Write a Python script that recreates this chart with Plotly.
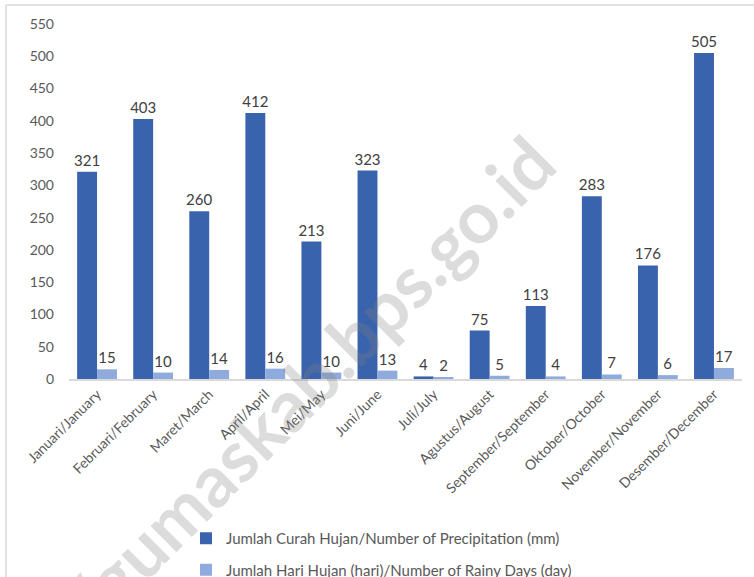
import plotly.graph_objects as go

W, H = 754, 577
L, R, T, B = 69, 12, 24, 198

months = [
    "Januari/January", "Februari/February", "Maret/March", "April/April",
    "Mei/May", "Juni/June", "Juli/July", "Agustus/August",
    "September/September", "Oktober/October", "November/November", "Desember/December",
]
precipitation_mm = [321, 403, 260, 412, 213, 323, 4, 75, 113, 283, 176, 505]
rainy_days = [15, 10, 14, 16, 10, 13, 2, 5, 4, 7, 6, 17]
y_ticks = list(range(0, 551, 50))

_DARK = "#3A63AD"
_LIGHT = "#8FAADC"
_TEXT = "#404040"
_FONT = "Lato, 'Open Sans', sans-serif"

fig = go.Figure()

fig.add_trace(
    go.Bar(
        x=months,
        y=precipitation_mm,
        name="Jumlah Curah Hujan/Number of Precipitation (mm)",
        legendgroup="a",
        marker=dict(color=_DARK, line=dict(width=0)),
        text=precipitation_mm,
        textposition="outside",
        constraintext="none",
        textfont=dict(color=_TEXT, size=15),
        cliponaxis=False,
    )
)
fig.add_trace(
    go.Bar(
        x=months,
        y=rainy_days,
        name="Jumlah Hari Hujan (hari)/Number of Rainy Days (day)",
        legendgroup="b",
        marker=dict(color=_LIGHT, line=dict(width=0)),
        text=rainy_days,
        textposition="outside",
        constraintext="none",
        textfont=dict(color=_TEXT, size=15),
        cliponaxis=False,
    )
)


def px_x(p):
    return (p - L) / (W - L - R)


def px_y(p):
    return (H - B - p) / (H - T - B)


# frame lines on the left and top edges
fig.add_shape(type="line", xref="paper", yref="paper",
              x0=px_x(6), x1=px_x(W), y0=px_y(5), y1=px_y(5),
              line=dict(color="#D9D9D9", width=1.5))
fig.add_shape(type="line", xref="paper", yref="paper",
              x0=px_x(6), x1=px_x(6), y0=px_y(5), y1=px_y(H),
              line=dict(color="#D9D9D9", width=1.5))

# watermark
fig.add_annotation(
    text="<b>https://gumaskab.bps.go.id</b>",
    xref="paper", yref="paper",
    x=px_x(238), y=px_y(451),
    xanchor="center", yanchor="middle",
    showarrow=False, textangle=-45,
    font=dict(size=72, color="rgba(128,128,128,0.28)", family="Lato, sans-serif"),
)

fig.update_layout(
    width=W,
    height=H,
    paper_bgcolor="white",
    plot_bgcolor="white",
    font=dict(family=_FONT, size=14, color="#595959"),
    margin=dict(l=L, r=R, t=T, b=B, autoexpand=False),
    barmode="group",
    bargap=0.29,
    bargroupgap=0,
    showlegend=True,
    legend=dict(
        orientation="v",
        x=px_x(186), xanchor="left",
        y=px_y(522), yanchor="top",
        traceorder="grouped",
        tracegroupgap=9,
        font=dict(size=15, color="#595959"),
        itemwidth=30,
    ),
    xaxis=dict(
        showgrid=False, zeroline=False,
        showline=True, linecolor="#D9D9D9", linewidth=1.5,
        tickangle=-45, tickfont=dict(size=14, color="#595959"),
        ticks="",
    ),
    yaxis=dict(
        range=[0, 550],
        tickvals=y_ticks,
        showgrid=False, zeroline=False, showline=False,
        tickfont=dict(size=14, color="#595959"),
        ticks="", ticklabelstandoff=14,
    ),
)

fig.write_html(
    "out.html",
    config=dict(displayModeBar=False),
    post_script="document.body.style.margin='0';",
)
